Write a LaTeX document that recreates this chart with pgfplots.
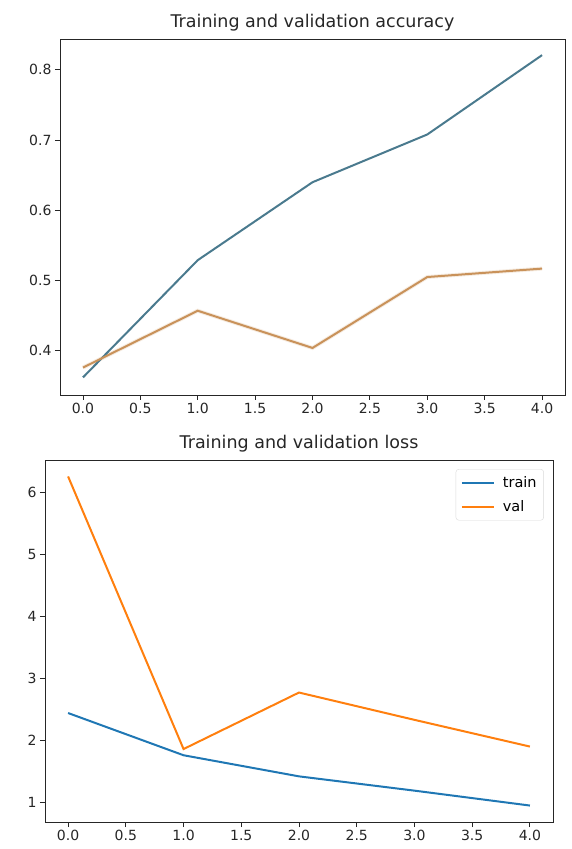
\documentclass[border=0pt]{standalone}
\usepackage{fontspec}
\setmainfont{DejaVu Sans}
\usepackage{pgfplots}
\pgfplotsset{compat=1.18}
\definecolor{mtrain}{HTML}{1F77B4}
\definecolor{mval}{HTML}{FF7F0E}
\definecolor{ttrain}{HTML}{4A7A8E}
\definecolor{tval}{HTML}{C9925A}
\pgfplotsset{
  mpl/.style={
    scale only axis,
    anchor=south west,
    axis line style={black!85, line width=0.9pt},
    tick style={black!85, line width=0.9pt},
    major tick length=5pt,
    tick align=outside,
    xtick pos=bottom, ytick pos=left,
    xmin=-0.2, xmax=4.2,
    xtick={0,0.5,...,4},
    xticklabel style={/pgf/number format/.cd, fixed, fixed zerofill, precision=1},
    /pgf/number format/assume math mode=true,
    ticklabel style={font=\fontsize{14}{15}\selectfont, text=black!85},
    title style={font=\fontsize{17.5}{18}\selectfont, text=black!85, yshift=-2pt},
    every axis plot/.append style={line width=2pt, mark=none},
  }
}
\begin{document}
\begin{tikzpicture}[x=1pt,y=1pt]
\useasboundingbox (0,0) rectangle (572,849);
\begin{axis}[mpl,
  at={(60pt,454pt)}, width=505pt, height=356pt,
  ymin=0.337, ymax=0.844,
  ytick={0.4,0.5,0.6,0.7,0.8},
  yticklabel style={/pgf/number format/.cd, fixed, fixed zerofill, precision=1},
  title={Training and validation accuracy}]
\addplot[tval!35, line width=4pt, opacity=0.5] coordinates {(0,0.376) (1,0.457) (2,0.404) (3,0.505) (4,0.517)};
\addplot[ttrain] coordinates {(0,0.362) (1,0.529) (2,0.640) (3,0.708) (4,0.821)};
\addplot[tval] coordinates {(0,0.376) (1,0.457) (2,0.404) (3,0.505) (4,0.517)};
\end{axis}
\begin{axis}[mpl,
  at={(45pt,27pt)}, width=508pt, height=362pt,
  ymin=0.685, ymax=6.515,
  ytick={1,2,3,4,5,6},
  title={Training and validation loss},
  legend style={draw=black!15, rounded corners=3pt, font=\fontsize{14.5}{15}\selectfont,
    at={(0.982,0.975)}, anchor=north east, inner xsep=5pt, inner ysep=5pt,
    row sep=8pt, column sep=6pt},
  legend cell align=left,
  legend image code/.code={\draw[#1, line width=2pt] (0pt,0pt) -- (32pt,0pt);}]
\addplot[mtrain] coordinates {(0,2.44) (1,1.76) (2,1.42) (3,1.19) (4,0.95)};
\addlegendentry{train}
\addplot[mval] coordinates {(0,6.25) (1,1.86) (2,2.77) (3,2.33) (4,1.90)};
\addlegendentry{val}
\end{axis}
\end{tikzpicture}
\end{document}
